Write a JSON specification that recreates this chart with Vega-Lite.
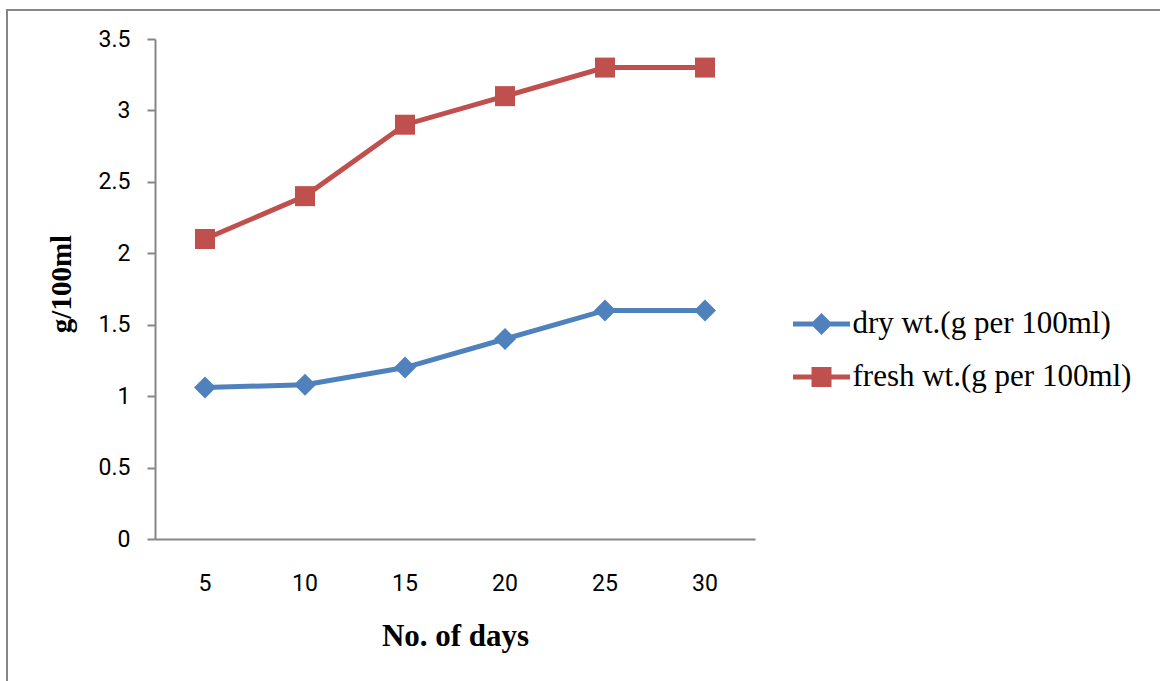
{
  "$schema": "https://vega.github.io/schema/vega-lite/v6.json",
  "width": 1160,
  "height": 680,
  "autosize": {"type": "none"},
  "padding": {"left": 7, "top": 10, "right": 0, "bottom": 0},
  "background": "white",
  "config": {
    "view": {"stroke": "#868686", "strokeWidth": 2},
    "axis": {"grid": false}
  },
  "data": {
    "values": [
      {"day": 5, "series": "dry wt.(g per 100ml)", "value": 1.06},
      {"day": 10, "series": "dry wt.(g per 100ml)", "value": 1.08},
      {"day": 15, "series": "dry wt.(g per 100ml)", "value": 1.2},
      {"day": 20, "series": "dry wt.(g per 100ml)", "value": 1.4},
      {"day": 25, "series": "dry wt.(g per 100ml)", "value": 1.6},
      {"day": 30, "series": "dry wt.(g per 100ml)", "value": 1.6},
      {"day": 5, "series": "fresh wt.(g per 100ml)", "value": 2.1},
      {"day": 10, "series": "fresh wt.(g per 100ml)", "value": 2.4},
      {"day": 15, "series": "fresh wt.(g per 100ml)", "value": 2.9},
      {"day": 20, "series": "fresh wt.(g per 100ml)", "value": 3.1},
      {"day": 25, "series": "fresh wt.(g per 100ml)", "value": 3.3},
      {"day": 30, "series": "fresh wt.(g per 100ml)", "value": 3.3}
    ]
  },
  "encoding": {
    "x": {
      "field": "day",
      "type": "ordinal",
      "bandPosition": 0.5,
      "scale": {"type": "band", "range": [148, 748], "paddingInner": 0, "paddingOuter": 0},
      "axis": {
        "title": "No. of days",
        "labelAngle": 0,
        "ticks": false,
        "tickSize": 0,
        "offset": -151,
        "domainColor": "#868686",
        "domainWidth": 2,
        "labelFont": "Roboto",
        "labelFontSize": 23,
        "labelColor": "#000000",
        "labelBaseline": "alphabetic",
        "labelPadding": 51,
        "titleFont": "Liberation Serif",
        "titleFontSize": 31,
        "titleFontWeight": "bold",
        "titleColor": "#000000",
        "titleX": 448,
        "titleY": 106,
        "titleAlign": "center",
        "titleBaseline": "alphabetic"
      }
    },
    "y": {
      "field": "value",
      "type": "quantitative",
      "scale": {"domain": [0, 3.5], "range": [529, 29], "nice": false, "zero": true},
      "axis": {
        "title": "g/100ml",
        "values": [0, 0.5, 1, 1.5, 2, 2.5, 3, 3.5],
        "format": "~g",
        "offset": -148,
        "tickSize": 8,
        "tickColor": "#868686",
        "tickWidth": 2,
        "domainColor": "#868686",
        "domainWidth": 2,
        "labelFont": "Roboto",
        "labelFontSize": 23,
        "labelColor": "#000000",
        "labelPadding": 17,
        "titleFont": "Liberation Serif",
        "titleFontSize": 29,
        "titleFontWeight": "bold",
        "titleColor": "#000000",
        "titleAngle": -90,
        "titleX": -85,
        "titleY": 273.5,
        "titleAlign": "center",
        "titleBaseline": "alphabetic"
      }
    },
    "color": {
      "field": "series",
      "type": "nominal",
      "scale": {
        "domain": ["dry wt.(g per 100ml)", "fresh wt.(g per 100ml)"],
        "range": ["#4F81BD", "#C0504D"]
      },
      "legend": {
        "title": null,
        "orient": "none",
        "legendX": 794.5,
        "legendY": 294,
        "padding": 0,
        "symbolSize": 1600,
        "rowPadding": 18,
        "labelOffset": 11,
        "labelFont": "Liberation Serif",
        "labelFontSize": 31,
        "labelColor": "#000000",
        "labelLimit": 500,
        "symbolStrokeWidth": 0,
        "encode": {
          "symbols": {
            "update": {
              "shape": {"signal": "datum.value === 'dry wt.(g per 100ml)' ? 'M-1.425,-0.12H1.425V0.12H-1.425Z M0,-0.55L0.55,0L0,0.55L-0.55,0Z' : 'M-1.425,-0.12H1.425V0.12H-1.425Z M-0.5,-0.5H0.5V0.5H-0.5Z'"},
              "fill": {"signal": "scale('color', datum.value)"},
              "strokeWidth": {"value": 0},
              "opacity": {"value": 1}
            }
          }
        }
      }
    }
  },
  "layer": [
    {
      "mark": {"type": "line", "strokeWidth": 5}
    },
    {
      "transform": [{"filter": "datum.series === 'dry wt.(g per 100ml)'"}],
      "mark": {"type": "point", "shape": "diamond", "filled": true, "opacity": 1, "size": 484, "strokeWidth": 0}
    },
    {
      "transform": [{"filter": "datum.series === 'fresh wt.(g per 100ml)'"}],
      "mark": {"type": "point", "shape": "square", "filled": true, "opacity": 1, "size": 400, "strokeWidth": 0}
    }
  ]
}
